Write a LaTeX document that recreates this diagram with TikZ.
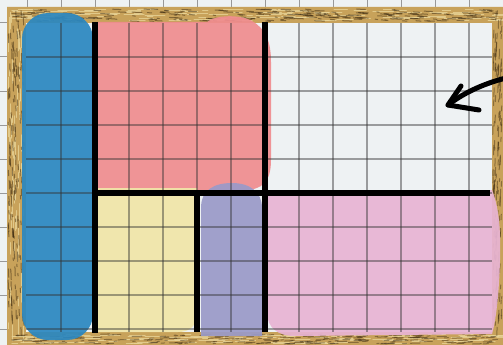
\documentclass[tikz,border=0pt]{standalone}
\usepackage{tikz}
\usetikzlibrary{calc}
\definecolor{paper}{HTML}{EEF2F3}
\definecolor{woodbase}{HTML}{C8A25A}
\definecolor{wooddark}{HTML}{3E2C12}
\definecolor{woodlight}{HTML}{E8D396}
\definecolor{paintblue}{HTML}{2A87C1}
\definecolor{paintred}{HTML}{F08C8F}
\definecolor{paintyellow}{HTML}{F1E6A8}
\definecolor{paintpurple}{HTML}{9A9AC8}
\definecolor{paintpink}{HTML}{E8B4D4}

\begin{document}
\begin{tikzpicture}[
    x=1pt, y=-1pt,
    outergrid/.style={draw=black!40, line width=1pt},
    innergrid/.style={draw=black!80, line width=1.1pt, opacity=0.45},
    wall/.style={draw=black, line width=6pt},
    streak/.style={line width=1pt, line cap=round},
    paint/.style={opacity=0.92},
    pen/.style={draw=black, line width=5pt, line cap=round, line join=round}
]
\useasboundingbox (0,0) rectangle (503,345);
\fill[paper] (0,0) rectangle (503,345);

% Paper grid outside the frame
\foreach \gx in {27,61,...,503} \draw[outergrid] (\gx,0) -- (\gx,345);
\foreach \gy in {23,57,...,345} \draw[outergrid] (0,\gy) -- (503,\gy);

% Wooden frame
\fill[woodbase, even odd rule] (7,7) rectangle (510,352) (26,23) rectangle (492,332);
\pgfmathsetseed{42}
\foreach \i in {1,...,140} {
  \pgfmathsetmacro{\sx}{9+488*rnd}
  \pgfmathsetmacro{\sy}{9+12*rnd}
  \pgfmathsetmacro{\sl}{5+16*rnd}
  \draw[streak, woodlight, opacity=0.8] (\sx,\sy) -- ++(\sl,0);
  \pgfmathsetmacro{\sy}{334+10*rnd}
  \draw[streak, woodlight, opacity=0.8] (\sx,\sy) -- ++(\sl,0);
}
\foreach \i in {1,...,80} {
  \pgfmathsetmacro{\sx}{8+16*rnd}
  \pgfmathsetmacro{\sy}{9+320*rnd}
  \pgfmathsetmacro{\sl}{5+14*rnd}
  \draw[streak, woodlight, opacity=0.8] (\sx,\sy) -- ++(0,\sl);
}
\foreach \i in {1,...,240} {
  \pgfmathsetmacro{\sx}{9+488*rnd}
  \pgfmathsetmacro{\sy}{9+12*rnd}
  \pgfmathsetmacro{\sl}{2+8*rnd}
  \draw[streak, wooddark, opacity=0.5] (\sx,\sy) -- ++(\sl,0.4);
  \pgfmathsetmacro{\sy}{334+10*rnd}
  \draw[streak, wooddark, opacity=0.45] (\sx,\sy) -- ++(\sl,-0.3);
}
\foreach \i in {1,...,150} {
  \pgfmathsetmacro{\sx}{8+16*rnd}
  \pgfmathsetmacro{\sy}{9+320*rnd}
  \pgfmathsetmacro{\sl}{2+8*rnd}
  \draw[streak, wooddark, opacity=0.5] (\sx,\sy) -- ++(0.3,\sl);
  \pgfmathsetmacro{\sx}{493+9*rnd}
  \draw[streak, wooddark, opacity=0.45] (\sx,\sy) -- ++(-0.3,\sl);
}

% Inner paper
\fill[paper] (26,23) rectangle (492,332);

% Paint blobs
\fill[paint, paintblue, rounded corners=26pt] (22,13) rectangle (93,340);
\fill[paint, paintred] (97,190) -- (97,22) -- (207,22)
    .. controls (215,15) and (240,14) .. (252,21)
    .. controls (266,29) and (271,42) .. (271,62) -- (271,160)
    .. controls (271,182) and (262,190) .. (244,190) -- cycle;
\fill[paint, paintyellow] (97,188) -- (197,188) -- (197,312)
    .. controls (197,326) and (190,332) .. (178,332) -- (97,332) -- cycle;
\fill[paint, paintpurple] (201,336) -- (201,208)
    .. controls (201,190) and (214,183) .. (232,183)
    .. controls (250,183) and (262,192) .. (262,208) -- (262,336) -- cycle;
\fill[paint, paintpink] (265,190) -- (492,190)
    .. controls (498,205) and (501,225) .. (500,260)
    .. controls (499,295) and (496,320) .. (492,334) -- (295,336)
    .. controls (278,336) and (267,328) .. (267,312) -- cycle;

% Grid lines over the paint
\begin{scope}
  \clip (26,23) rectangle (492,332);
  \foreach \gx in {61,95,...,492} \draw[innergrid] (\gx,23) -- (\gx,332);
  \foreach \gy in {57,91,...,332} \draw[innergrid] (26,\gy) -- (492,\gy);
\end{scope}

% Walls
\draw[wall] (95,22) -- (95,333);
\draw[wall] (265,22) -- (265,332);
\draw[wall] (92,193) -- (490,193);
\draw[wall] (197,193) -- (197,332);

% Arrow
\coordinate (tail) at (506,78);
\coordinate (tip) at (448,105);
\draw[pen] (tail) .. controls (482,84) and (462,94) .. (tip);
\draw[pen] (461,86) -- (tip) -- (479,110);
\end{tikzpicture}
\end{document}
